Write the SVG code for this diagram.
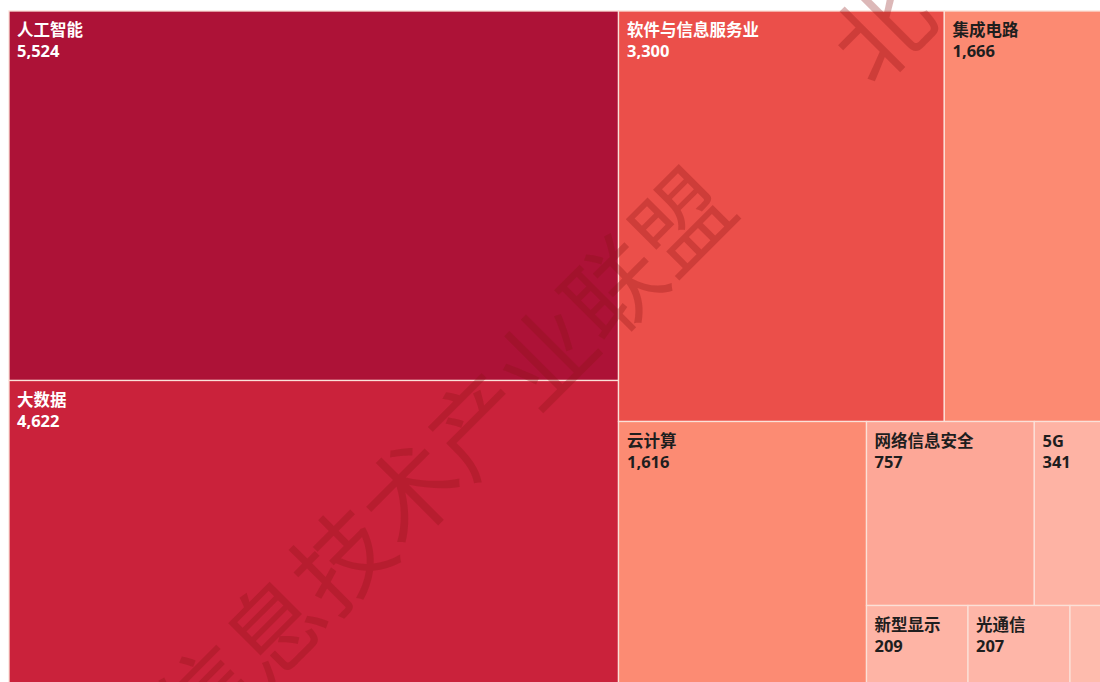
<svg xmlns="http://www.w3.org/2000/svg" width="1100" height="682" viewBox="0 0 1100 682">
  <defs>
    <style>
      .cell { stroke: #fbe0d8; stroke-width: 1.3; }
      .lbl { font-family: "Open Sans", "Noto Sans CJK SC", sans-serif; font-size: 16.5px; font-weight: 700; }
      .light { fill: #ffffff; }
      .dark { fill: #1e1e1e; }
      .wm { font-family: "Noto Sans CJK SC", "Noto Sans CJK JP", sans-serif; font-size: 96px; font-weight: 400; fill: #8c1414; fill-opacity: 0.3; }
    </style>
  </defs>
  <rect x="0" y="0" width="1100" height="682" fill="#ffffff"/>

  <g id="node-ai">
    <rect class="cell" x="9" y="11" width="609.5" height="369.5" fill="#ad1237"/>
    <text class="lbl light" x="17" y="36">人工智能</text>
    <text class="lbl light" x="17" y="57">5,524</text>
  </g>
  <g id="node-bigdata">
    <rect class="cell" x="9" y="380.5" width="609.5" height="310" fill="#ca223b"/>
    <text class="lbl light" x="17" y="405.5">大数据</text>
    <text class="lbl light" x="17" y="426.5">4,622</text>
  </g>
  <g id="node-software">
    <rect class="cell" x="618.5" y="11" width="325.8" height="410.5" fill="#eb4f4a"/>
    <text class="lbl light" x="627" y="36">软件与信息服务业</text>
    <text class="lbl light" x="627" y="57">3,300</text>
  </g>
  <g id="node-ic">
    <rect class="cell" x="944.3" y="11" width="170" height="410.5" fill="#fc8a72"/>
    <text class="lbl dark" x="952.5" y="36">集成电路</text>
    <text class="lbl dark" x="952.5" y="57">1,666</text>
  </g>
  <g id="node-cloud">
    <rect class="cell" x="618.5" y="421.5" width="248" height="280" fill="#fc8b73"/>
    <text class="lbl dark" x="627" y="446.5">云计算</text>
    <text class="lbl dark" x="627" y="467.5">1,616</text>
  </g>
  <g id="node-security">
    <rect class="cell" x="866.5" y="421.5" width="167.8" height="184" fill="#fda797"/>
    <text class="lbl dark" x="874.5" y="446.5">网络信息安全</text>
    <text class="lbl dark" x="874.5" y="467.5">757</text>
  </g>
  <g id="node-5g">
    <rect class="cell" x="1034.3" y="421.5" width="80" height="184" fill="#feb3a4"/>
    <text class="lbl dark" x="1042.5" y="446.5">5G</text>
    <text class="lbl dark" x="1042.5" y="467.5">341</text>
  </g>
  <g id="node-display">
    <rect class="cell" x="866.5" y="605.5" width="101.5" height="90" fill="#feb4a5"/>
    <text class="lbl dark" x="874.5" y="631">新型显示</text>
    <text class="lbl dark" x="874.5" y="652">209</text>
  </g>
  <g id="node-optical">
    <rect class="cell" x="968" y="605.5" width="102" height="90" fill="#feb6a8"/>
    <text class="lbl dark" x="976" y="631">光通信</text>
    <text class="lbl dark" x="976" y="652">207</text>
  </g>
  <g id="node-other">
    <rect class="cell" x="1070" y="605.5" width="40" height="90" fill="#febbad"/>
  </g>

  <g id="connectors"></g>

  <g id="watermark">
    <text class="wm" transform="translate(440,454) rotate(-45)" text-anchor="middle" dominant-baseline="central">信息技术产业联盟</text>
    <text class="wm" transform="translate(878,26) rotate(-45)" text-anchor="middle" dominant-baseline="central">北</text>
  </g>
</svg>
